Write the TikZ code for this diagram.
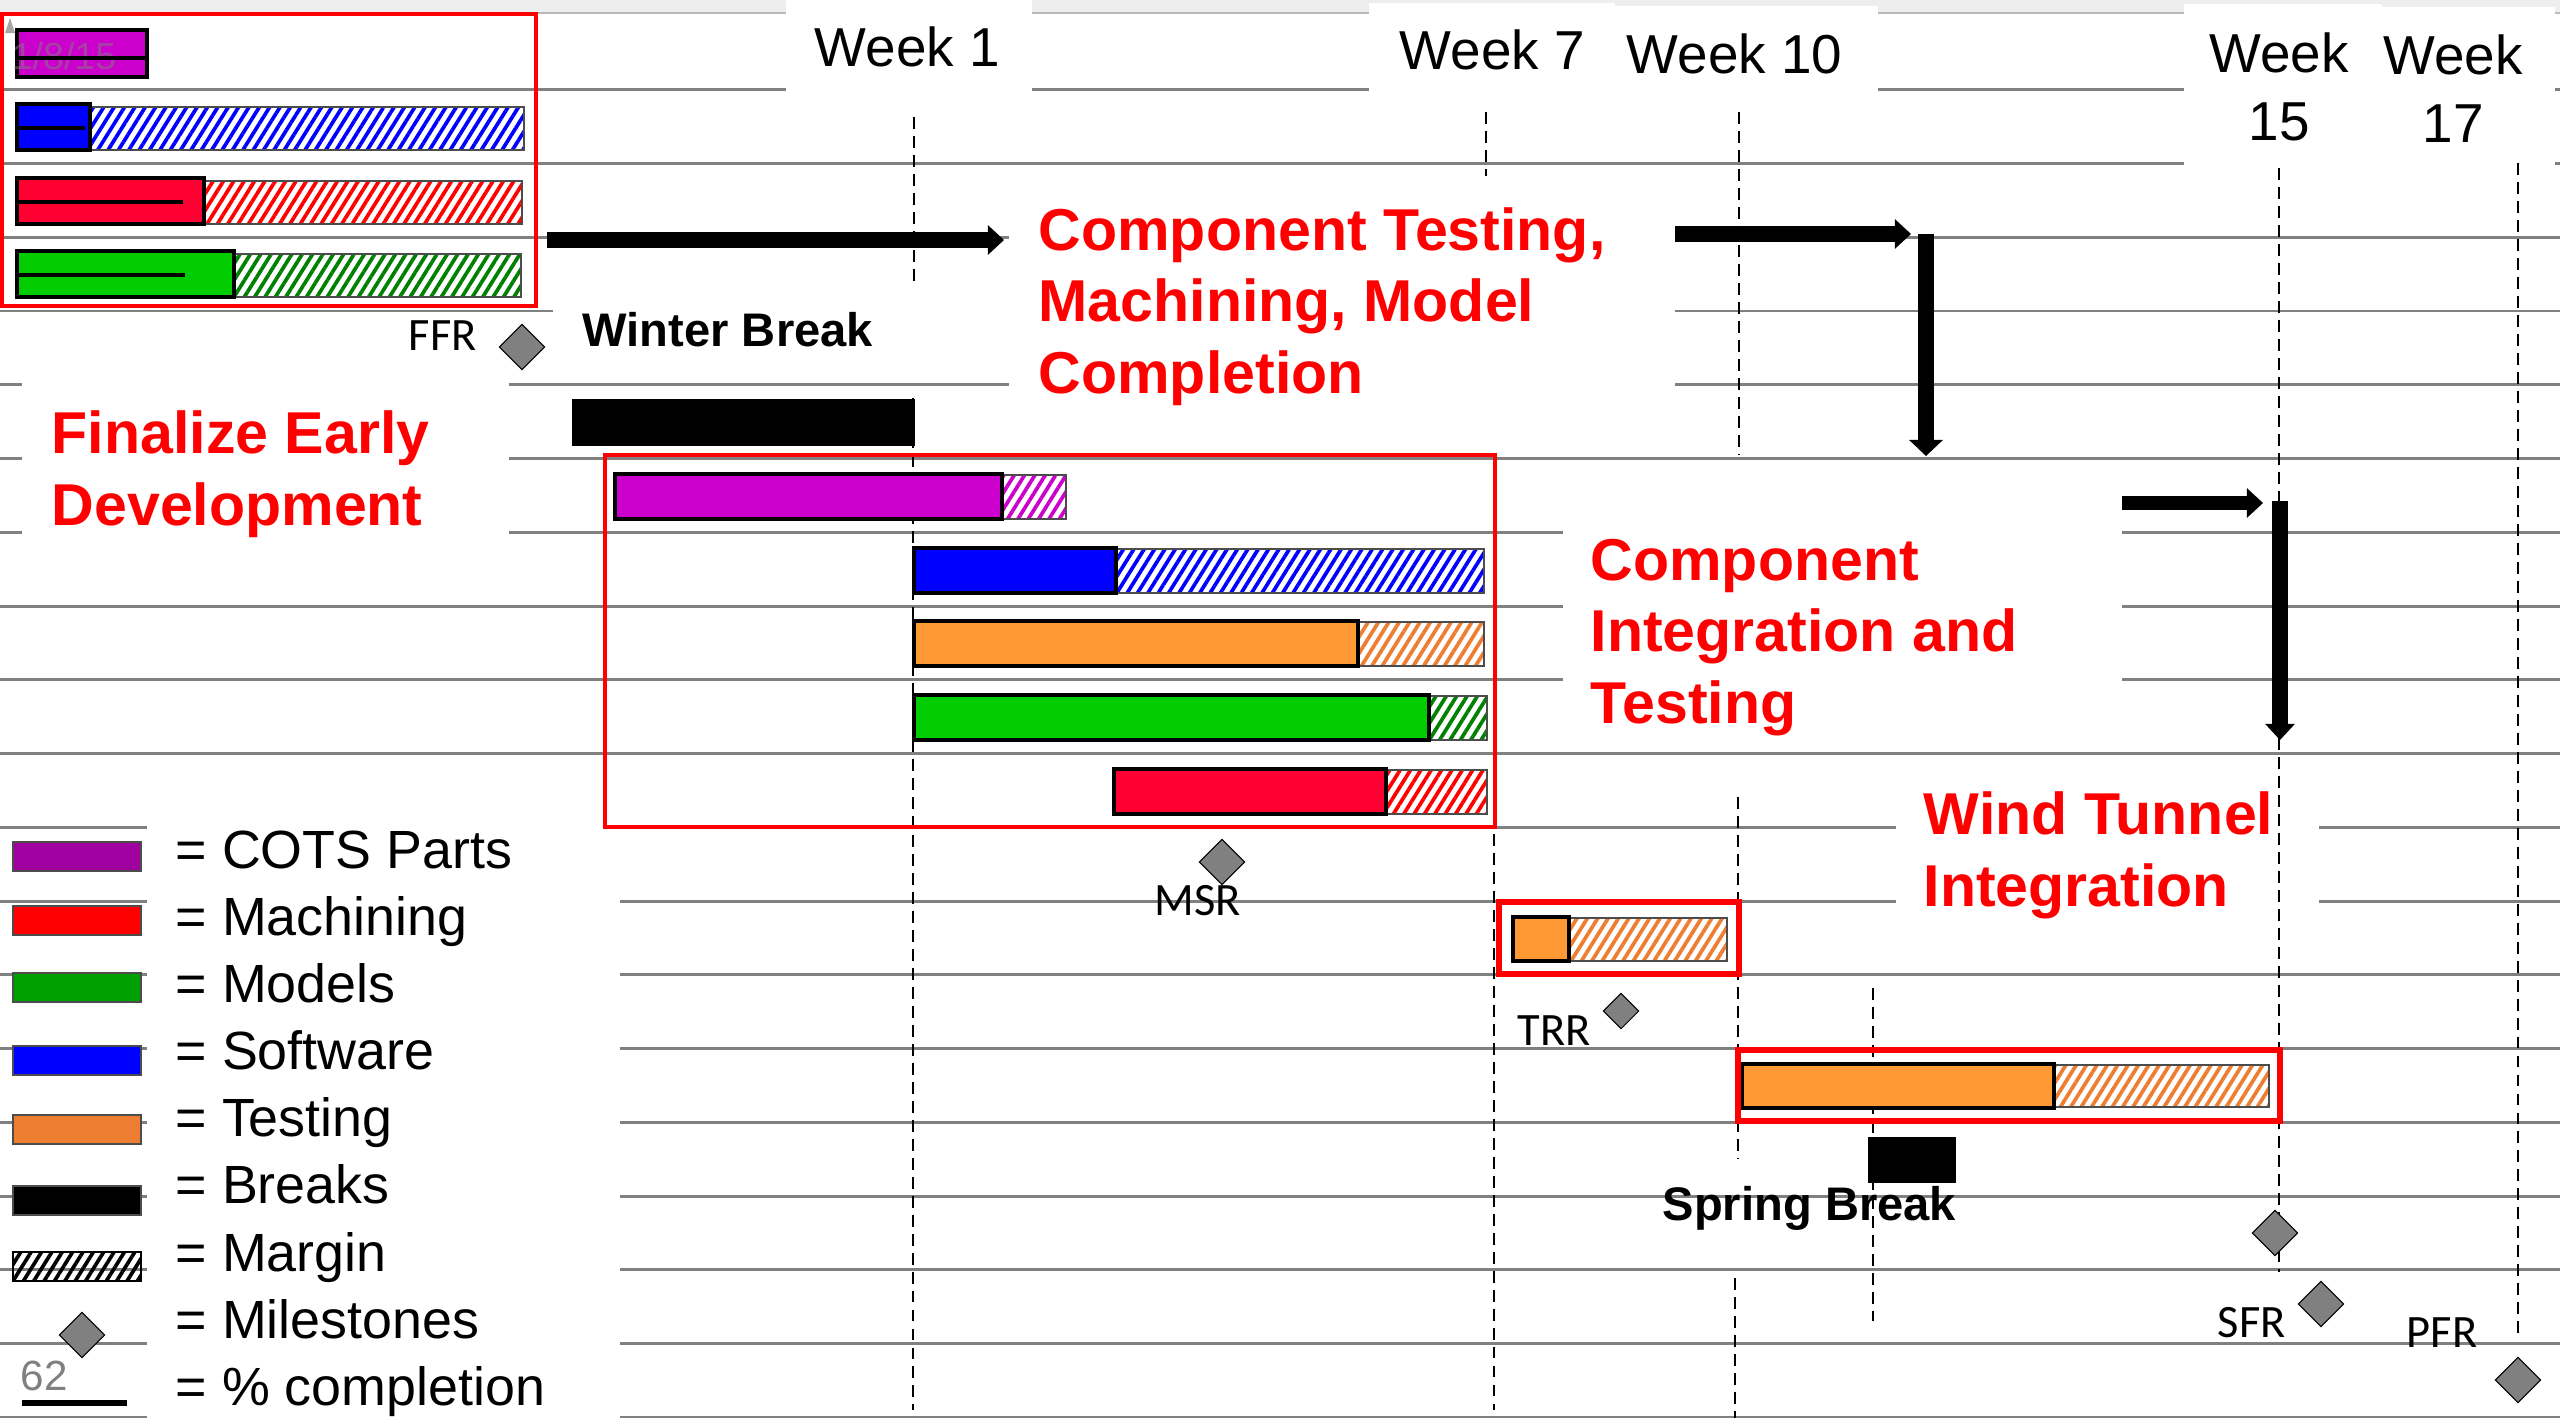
\documentclass[tikz,border=0pt]{standalone}
\usepackage{fontspec}
\setmainfont{Liberation Sans}
\newfontfamily\calfont{Carlito}
\usetikzlibrary{arrows.meta,patterns.meta,shapes.geometric}
\definecolor{cots}{HTML}{CC00CC}
\definecolor{cotskey}{HTML}{A000A0}
\definecolor{mach}{HTML}{FF0033}
\definecolor{machkey}{HTML}{FF0000}
\definecolor{models}{HTML}{00CC00}
\definecolor{modelshatch}{HTML}{008000}
\definecolor{modelskey}{HTML}{00A000}
\definecolor{soft}{HTML}{0000FF}
\definecolor{testing}{HTML}{FF9933}
\definecolor{testhatch}{HTML}{ED7D31}
\definecolor{gridgray}{HTML}{808080}
\definecolor{band}{HTML}{EEEEEE}

\begin{document}
\begin{tikzpicture}[x=0.01cm, y=-0.01cm,
  >={Triangle[length=4.6pt,width=8.5pt,line width=0pt]},
  gridline/.style={draw=gridgray, line width=.85pt},
  weekline/.style={line width=.7pt, dash pattern=on 3.4pt off 2pt},
  donebar/.style={fill=#1, draw=black, line width=1pt},
  marginbar/.style={pattern={Lines[angle=58,distance=2.5pt,line width=1.05pt]}, pattern color=#1, draw=black!70, line width=.3pt},
  keybar/.style={fill=#1, draw=black!70, line width=.4pt},
  phasebox/.style={draw=red, line width=1.4pt},
  bigarrow/.style={->, line width=4.3pt},
  milestone/.style={diamond, draw=black, fill=gridgray, line width=.3pt, inner sep=0pt, minimum size=13pt},
  phase/.style={text=red, font=\bfseries\fontsize{16.8}{20.2}\selectfont, align=left, anchor=base west, inner sep=0pt},
  weektxt/.style={font=\fontsize{15.6}{19.3}\selectfont, inner sep=0pt},
  keytxt/.style={font=\fontsize{15.3}{18}\selectfont, anchor=base west, inner sep=0pt},
  mstxt/.style={font=\calfont\fontsize{13.2}{15}\selectfont, anchor=base west, inner sep=0pt},
  breaktxt/.style={font=\bfseries\fontsize{13.4}{16}\selectfont, anchor=base west, inner sep=0pt}]
\useasboundingbox (0,0) rectangle (2560,1418);
\fill[white] (0,0) rectangle (2560,1418);
\fill[band] (0,0) rectangle (2560,12);
\draw[gridgray!55, line width=.85pt] (0,13) -- (2560,13);

% rows
\foreach \k in {1,...,19}
    \draw[gridline] (0,{16+73.75*\k}) -- (2560,{16+73.75*\k});

% white boxes behind the labels
\fill[white] (786,0) rectangle (1032,100);
\fill[white] (1369,3) rectangle (1615,105);
\fill[white] (1615,6) rectangle (1878,105);
\fill[white] (2184,4) rectangle (2382,172);
\fill[white] (2382,7) rectangle (2555,172);
\fill[white] (22,370) rectangle (509,545);
\fill[white] (553,287) rectangle (1009,378);
\fill[white] (1009,190) rectangle (1675,445);
\fill[white] (1563,470) rectangle (2122,745);
\fill[white] (1896,770) rectangle (2319,930);
\fill[white] (147,800) rectangle (620,1418);

% weeks
\foreach \x/\a/\b in {914/117/287, 913/398/1410, 1486/112/176, 1494/454/1410, 1739/112/454,
    1738/797/1158, 1735/1278/1418, 1873/988/1321, 2279/168/1272, 2518/163/1339}
    \draw[weekline] (\x,\a) -- (\x,\b);

\node[weektxt, anchor=base west] (w1) at (814,67) {Week 1};
\node[weektxt, anchor=base west] (w7) at (1399,70) {Week 7};
\node[weektxt, anchor=base west] (w10) at (1626,73) {Week 10};
\node[weektxt, anchor=base, align=center] (w15) at (2279,140) {Week\\15};
\node[weektxt, anchor=base, align=center] (w17) at (2453,142) {Week\\17};

% early development
\draw[donebar=cots] (17,30) rectangle (147,77);
\node[font=\fontsize{10.7}{12}\selectfont, text=gray, opacity=.5, anchor=base west, inner sep=0pt] (date) at (11,70) {1/8/15};
\fill[gray!70] (10,18) -- (15,33) -- (5,33) -- cycle;
\draw[line width=1.4pt] (17,58) -- (147,58);
\foreach \t/\m/\e/\c/\hc/\p in {104/90/524/soft/soft/85, 178/204/522/mach/machkey/183, 251/234/521/models/modelshatch/185}
{
    \draw[marginbar=\hc] (\m,\t+3) rectangle (\e,\t+46);
    \draw[donebar=\c] (17,\t) rectangle (\m,\t+46);
    \draw[line width=1.4pt] (19,\t+24) -- (\p,\t+24);
}

% component testing
\foreach \s/\m/\e/\t/\c/\hc in {615/1002/1066/474/cots/cots, 914/1116/1484/548/soft/soft,
    914/1358/1484/621/testing/testhatch, 914/1429/1487/695/models/modelshatch, 1114/1386/1487/769/mach/machkey}
{
    \draw[marginbar=\hc] (\m,\t+1) rectangle (\e,\t+45);
    \draw[donebar=\c] (\s,\t) rectangle (\m,\t+45);
}
\draw[marginbar=testhatch] (1569,918) rectangle (1727,961);
\draw[donebar=testing] (1513,917) rectangle (1569,961);
\draw[marginbar=testhatch] (2054,1065) rectangle (2269,1107);
\draw[donebar=testing] (1742,1064) rectangle (2054,1108);

% breaks
\fill (572,399) rectangle (915,446);
\fill (1868,1137) rectangle (1956,1183);

\draw[phasebox] (2,14) rectangle (536,306);
\draw[phasebox] (605,455) rectangle (1495,827);
\draw[phasebox, line width=1.6pt] (1499,902) rectangle (1739,974);
\draw[phasebox, line width=1.6pt] (1738,1050) rectangle (2280,1121);

% arrows
\coordinate (a1s) at (547,240);
\coordinate (a1e) at (1004,240);
\coordinate (a2s) at (1675,234);
\coordinate (a2e) at (1911,234);
\coordinate (a2t) at (1926,234);
\coordinate (a2b) at (1926,456);
\coordinate (a3s) at (2122,503);
\coordinate (a3e) at (2263,503);
\coordinate (a3t) at (2280,501);
\coordinate (a3b) at (2280,740);
\draw[bigarrow] (a1s) -- (a1e);
\draw[bigarrow] (a2s) -- (a2e);
\draw[bigarrow, line width=4.5pt, -{Triangle[length=4.6pt,width=9.7pt,line width=0pt]}] (a2t) -- (a2b);
\draw[bigarrow, line width=4pt] (a3s) -- (a3e);
\draw[bigarrow] (a3t) -- (a3b);

% milestones
\node[milestone] (ffr) at (522,347) {};
\node[milestone] (msr) at (1222,862) {};
\node[milestone, minimum size=10.2pt] (trr) at (1621,1011) {};
\node[milestone] (wtdone) at (2275,1233) {};
\node[milestone] (sfr) at (2321,1304) {};
\node[milestone] (pfr) at (2518,1380) {};
\node[mstxt] (ffrtxt) at (408,350) {FFR};
\node[mstxt] (msrtxt) at (1154,915) {MSR};
\node[mstxt] (trrtxt) at (1517,1045) {TRR};
\node[mstxt] (sfrtxt) at (2217,1337) {SFR};
\node[mstxt] (pfrtxt) at (2406,1347) {PFR};

% phases
\node[phase] (early) at (51,525) {Finalize Early\\Development};
\node[phase] (comptest) at (1038,393) {Component Testing,\\Machining, Model\\Completion};
\node[phase] (compint) at (1590,723) {Component\\Integration and\\Testing};
\node[phase] (wind) at (1923,906) {Wind Tunnel\\Integration};
\node[breaktxt] (winter) at (582,346) {Winter Break};
\node[breaktxt] (spring) at (1662,1220) {Spring Break};

% legend
\foreach \y/\c/\name [count=\i from 0] in {842/cotskey/COTS Parts, 906/machkey/Machining, 973/modelskey/Models,
    1046/soft/Software, 1115/testhatch/Testing, 1186/black/Breaks}
{
    \draw[keybar=\c] (13,\y) rectangle (141,\y+29);
    \node[keytxt] (key\i) at (175,{868+67.1*\i}) {= \name};
}
\draw[marginbar=black, draw=black] (13,1252) rectangle (141,1281);
\node[keytxt] (key6) at (175,1271) {= Margin};
\node[milestone] (keyms) at (82,1335) {};
\node[keytxt] (key7) at (175,1338) {= Milestones};
\node[font=\fontsize{12}{14}\selectfont, text=gray, anchor=base west, inner sep=0pt] (keypct) at (20,1390) {62};
\draw[line width=1.55pt] (22,1403) -- (127,1403);
\node[keytxt] (key8) at (175,1405) {= \% completion};
\end{tikzpicture}
\end{document}
